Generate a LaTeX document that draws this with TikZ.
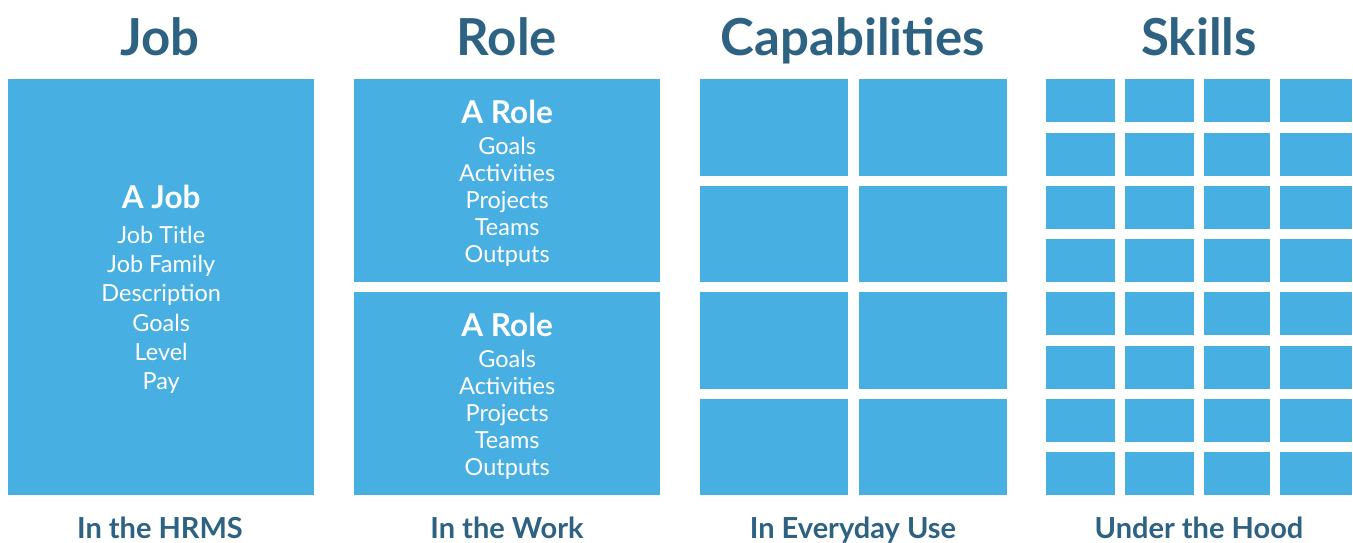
\documentclass[tikz,border=0pt]{standalone}
\usepackage{fontspec}
\setmainfont{Lato}
\definecolor{boxblue}{HTML}{48AFE3}
\definecolor{headblue}{HTML}{2E6282}

\begin{document}
\begin{tikzpicture}[x=1pt,y=-1pt,
    box/.style={fill=boxblue,draw=none,inner sep=0pt,anchor=north west},
    boxtext/.style={text=white,align=center,inner sep=0pt,yshift=-2.5pt,
      font=\fontsize{23.5}{27}\selectfont},
    head/.style={text=headblue,anchor=base,font=\fontsize{51}{51}\selectfont\bfseries},
    foot/.style={text=headblue,anchor=base,font=\fontsize{29}{29}\selectfont\bfseries}]
  \useasboundingbox (0,0) rectangle (1353,542);

  % column headings and captions
  \node[head] (jobhead) at (160,55) {Job};
  \node[head] (rolehead) at (507,55) {Role};
  \node[head] (caphead) at (853,55) {Capabilities};
  \node[head] (skillhead) at (1199,55) {Skills};
  \node[foot] (jobfoot) at (160,538) {In the HRMS};
  \node[foot] (rolefoot) at (507,538) {In the Work};
  \node[foot] (capfoot) at (853,538) {In Everyday Use};
  \node[foot] (skillfoot) at (1199,538) {Under the Hood};

  % job
  \node[box,minimum width=306pt,minimum height=416pt] (job) at (8,79) {};
  \node[boxtext,font=\fontsize{23.5}{29.3}\selectfont] (jobtext) at (job.center)
    {{\fontsize{31.5}{30}\selectfont\bfseries A Job}\\[5pt]
     Job Title\\ Job Family\\ Description\\ Goals\\ Level\\ Pay};

  % roles
  \foreach \y/\name in {79/roleA,292/roleB}{
    \node[box,minimum width=306pt,minimum height=203pt] (\name) at (354,\y) {};
    \node[boxtext] (\name text) at (\name.center)
      {{\fontsize{31.5}{30}\selectfont\bfseries A Role}\\[4pt]
       Goals\\ Activities\\ Projects\\ Teams\\ Outputs};
  }

  % capabilities
  \foreach \y [count=\r] in {79,185.5,292,398.5}
    \foreach \x [count=\c] in {700,859}
      \node[box,minimum width=148pt,minimum height=96.5pt] (cap-\r-\c) at (\x,\y) {};

  % skills
  \foreach \r in {1,...,8}
    \foreach \x/\w [count=\c] in {1046/69,1125/69,1204/66,1280/72}
      \node[box,minimum width=\w pt,minimum height=43pt] (skill-\r-\c)
        at (\x,{79+53.3*(\r-1)}) {};
\end{tikzpicture}
\end{document}
